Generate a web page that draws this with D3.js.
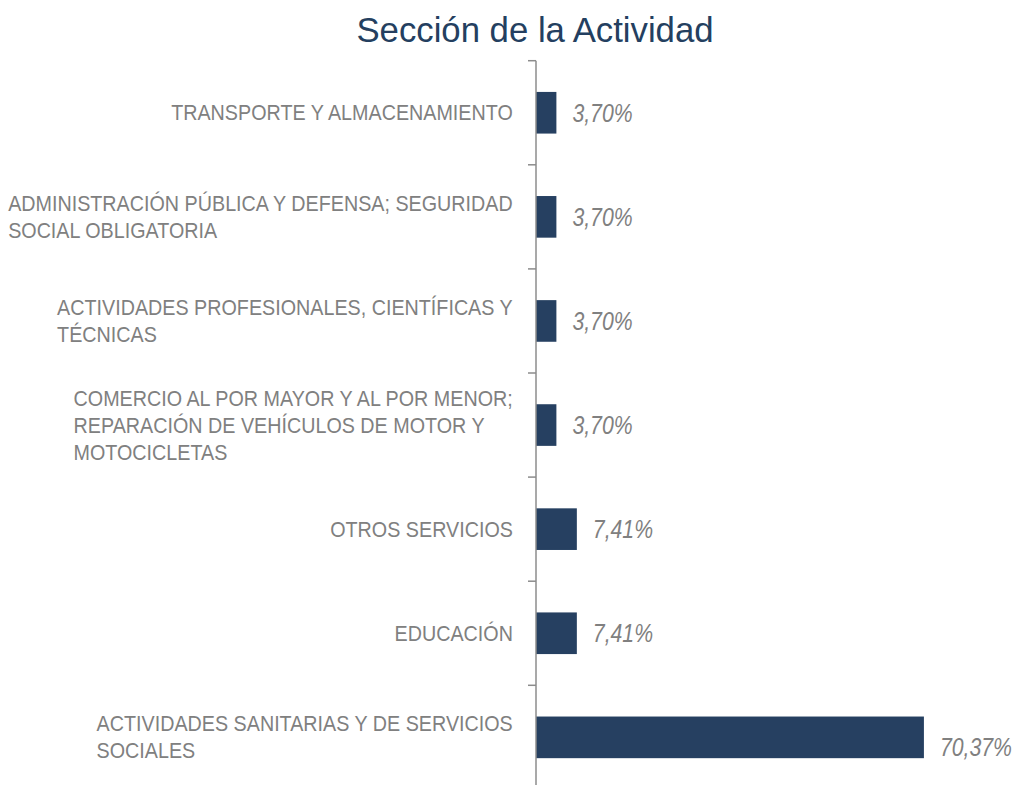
<!DOCTYPE html>
<html>
<head>
<meta charset="utf-8">
<script src="https://cdn.jsdelivr.net/npm/d3@7"></script>
<style>
  html, body { margin: 0; padding: 0; background: #ffffff; }
  svg { display: block; }
</style>
</head>
<body>
<svg id="chart" width="1017" height="785"></svg>
<script>
const title = "Sección de la Actividad";
const categories = [
  "TRANSPORTE Y ALMACENAMIENTO",
  "ADMINISTRACIÓN PÚBLICA Y DEFENSA; SEGURIDAD SOCIAL OBLIGATORIA",
  "ACTIVIDADES PROFESIONALES, CIENTÍFICAS Y TÉCNICAS",
  "COMERCIO AL POR MAYOR Y AL POR MENOR; REPARACIÓN DE VEHÍCULOS DE MOTOR Y MOTOCICLETAS",
  "OTROS SERVICIOS",
  "EDUCACIÓN",
  "ACTIVIDADES SANITARIAS Y DE SERVICIOS SOCIALES"
];
const categoryLines = [
  ["TRANSPORTE Y ALMACENAMIENTO"],
  ["ADMINISTRACIÓN PÚBLICA Y DEFENSA; SEGURIDAD", "SOCIAL OBLIGATORIA"],
  ["ACTIVIDADES PROFESIONALES, CIENTÍFICAS Y", "TÉCNICAS"],
  ["COMERCIO AL POR MAYOR Y AL POR MENOR;", "REPARACIÓN DE VEHÍCULOS DE MOTOR Y", "MOTOCICLETAS"],
  ["OTROS SERVICIOS"],
  ["EDUCACIÓN"],
  ["ACTIVIDADES SANITARIAS Y DE SERVICIOS", "SOCIALES"]
];
const values = [3.70, 3.70, 3.70, 3.70, 7.41, 7.41, 70.37];
const valueLabels = ["3,70%", "3,70%", "3,70%", "3,70%", "7,41%", "7,41%", "70,37%"];

const FONT = "'Liberation Sans', Arial, sans-serif";
const BAR = "#264061";
const GREY = "#808080";
const AXIS = "#8c8c8c";

const svg = d3.select("#chart");
const axisX = 536;

const y = d3.scaleBand()
  .domain(categories)
  .range([60.7, 789.4])
  .paddingInner(0.6)
  .paddingOuter(0.3);

const x = d3.scaleLinear()
  .domain([0, 80])
  .range([axisX, axisX + 441]);

// title
svg.append("text")
  .attr("transform", "translate(535,42) scale(0.965,1)")
  .attr("text-anchor", "middle")
  .attr("font-family", FONT)
  .attr("font-size", 36)
  .attr("fill", "#243f60")
  .text(title);

// bars
svg.append("g").selectAll("rect")
  .data(values)
  .join("rect")
  .attr("x", x(0))
  .attr("y", (d, i) => y(categories[i]))
  .attr("width", d => x(d) - x(0))
  .attr("height", y.bandwidth())
  .attr("fill", BAR);

// y axis (tick marks at band boundaries)
const step = y.step();
const start = y.range()[0];
const boundaries = d3.range(categories.length + 1).map(i => start + i * step);
const axisG = svg.append("g");
axisG.append("line")
  .attr("x1", axisX).attr("x2", axisX)
  .attr("y1", boundaries[0]).attr("y2", boundaries[boundaries.length - 1])
  .attr("stroke", AXIS).attr("stroke-width", 1.5);
axisG.selectAll("line.tick")
  .data(boundaries)
  .join("line")
  .attr("class", "tick")
  .attr("x1", axisX - 8).attr("x2", axisX)
  .attr("y1", d => d).attr("y2", d => d)
  .attr("stroke", AXIS).attr("stroke-width", 1.5);

// category labels: block right-aligned, lines left-aligned
const LABEL_SIZE = 21.5;
const LINE_H = 27;
const STRETCH = 0.918;
const labelRight = 513;
categoryLines.forEach((lines, i) => {
  const cy = y(categories[i]) + y.bandwidth() / 2;
  const g = svg.append("g");
  const inner = g.append("g");
  const n = lines.length;
  lines.forEach((ln, j) => {
    inner.append("text")
      .attr("x", 0)
      .attr("y", (j - (n - 1) / 2) * LINE_H)
      .attr("dy", "0.35em")
      .attr("font-family", FONT)
      .attr("font-size", LABEL_SIZE)
      .attr("fill", GREY)
      .text(ln);
  });
  const w = d3.max(inner.selectAll("text").nodes(), t => t.getComputedTextLength()) * STRETCH;
  g.attr("transform", `translate(${labelRight - w},${cy})`);
  inner.attr("transform", `scale(${STRETCH},1)`);
});

// value labels
svg.append("g").selectAll("g")
  .data(values)
  .join("g")
  .attr("transform", (d, i) => `translate(${x(d) + 16},${y(categories[i]) + y.bandwidth() / 2 + (d === d3.max(values) ? 10 : 0)}) scale(0.85,1)`)
  .append("text")
  .attr("dy", "0.35em")
  .attr("font-family", FONT)
  .attr("font-style", "italic")
  .attr("font-size", 25)
  .attr("fill", GREY)
  .text((d, i) => valueLabels[i]);
</script>
</body>
</html>
